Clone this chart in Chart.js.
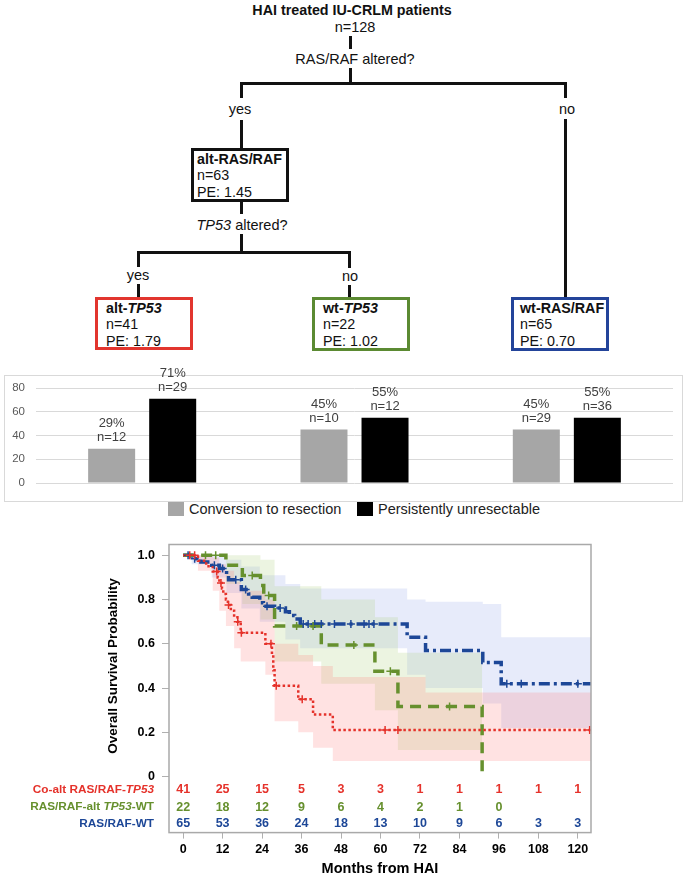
<!DOCTYPE html>
<html lang="en">
<head>
<meta charset="utf-8"/>
<title>HAI treated IU-CRLM patients</title>
<script src="https://cdn.jsdelivr.net/npm/chart.js"></script>
<style>
  body { margin: 0; width: 686px; height: 879px; position: relative; overflow: hidden; background: #fff;
         font-family: Arial, "Liberation Sans", sans-serif; color: #111; }
  .t { position: absolute; white-space: nowrap; font-size: 14.5px; line-height: 16px; transform: translate(-50%, -50%); }
  .ln { position: absolute; background: #111; }
  .box { position: absolute; box-sizing: border-box; border: 3px solid #111; font-size: 14.3px; line-height: 16.3px; white-space: nowrap; }
  .panel { position: absolute; left: 4px; top: 375px; width: 677px; height: 125px; border: 1px solid #d9d9d9; }
  .leg { position: absolute; top: 501px; font-size: 14.5px; line-height: 16px; color: #222; white-space: nowrap; }
  .sq { display: inline-block; width: 16px; height: 14px; vertical-align: -2px; margin-right: 5px; }
  #barChart { position: absolute; left: 5px; top: 356px; }
  #kmWrap { position: absolute; left: 0; top: 530px; }
</style>
</head>
<body>
<!-- decision tree -->
<div class="t" style="left:352px;top:10px;font-weight:bold;font-size:14.3px;">HAI treated IU-CRLM patients</div>
<div class="t" style="left:355px;top:27px;">n=128</div>
<div class="t" style="left:355px;top:59px;">RAS/RAF altered?</div>
<div class="t" style="left:240px;top:109px;">yes</div>
<div class="t" style="left:567px;top:109px;">no</div>
<div class="t" style="left:242px;top:225px;"><i>TP53</i> altered?</div>
<div class="t" style="left:138px;top:275px;">yes</div>
<div class="t" style="left:350px;top:276px;">no</div>

<div class="ln" style="left:349px;top:36px;width:3px;height:13px;"></div>
<div class="ln" style="left:349px;top:68px;width:3px;height:16px;"></div>
<div class="ln" style="left:240px;top:82px;width:327px;height:3px;"></div>
<div class="ln" style="left:240px;top:82px;width:3px;height:16px;"></div>
<div class="ln" style="left:240px;top:120px;width:3px;height:28px;"></div>
<div class="ln" style="left:564px;top:82px;width:3px;height:16px;"></div>
<div class="ln" style="left:564px;top:119px;width:3px;height:178px;"></div>
<div class="ln" style="left:240px;top:202px;width:3px;height:12px;"></div>
<div class="ln" style="left:240px;top:234px;width:3px;height:19px;"></div>
<div class="ln" style="left:137px;top:251px;width:214px;height:3px;"></div>
<div class="ln" style="left:137px;top:251px;width:3px;height:16px;"></div>
<div class="ln" style="left:137px;top:284px;width:3px;height:13px;"></div>
<div class="ln" style="left:348px;top:251px;width:3px;height:17px;"></div>
<div class="ln" style="left:348px;top:285px;width:3px;height:12px;"></div>

<div class="box" style="left:191px;top:148px;width:98px;height:54px;padding-left:3px;">
  <b>alt-RAS/RAF</b><br/>n=63<br/>PE: 1.45</div>
<div class="box" style="left:95px;top:297px;width:98px;height:53px;padding-left:8px;border-color:#e2352e;">
  <b>alt-<i>TP53</i></b><br/>n=41<br/>PE: 1.79</div>
<div class="box" style="left:312px;top:297px;width:98px;height:54px;padding-left:8px;border-color:#5b8a32;">
  <b>wt-<i>TP53</i></b><br/>n=22<br/>PE: 1.02</div>
<div class="box" style="left:511px;top:297px;width:98px;height:54px;padding-left:6px;border-color:#23449a;">
  <b>wt-RAS/RAF</b><br/>n=65<br/>PE: 0.70</div>

<!-- bar chart -->
<div class="panel"></div>
<canvas id="barChart" width="677" height="145"></canvas>
<div class="leg" style="left:168px;"><span class="sq" style="background:#a6a6a6;"></span>Conversion to resection</div>
<div class="leg" style="left:357px;"><span class="sq" style="background:#000;"></span>Persistently unresectable</div>

<!-- survival chart -->
<div id="kmWrap"><canvas id="kmChart" width="686" height="349"></canvas></div>

<script>
  // ---- bar chart data ----
  const groups = ['alt-TP53', 'wt-TP53', 'wt-RAS/RAF'];
  const convPct = [29, 45, 45];
  const persPct = [71, 55, 55];
  const convN = [12, 10, 29];
  const persN = [29, 12, 36];
  const barTicks = [0, 20, 40, 60, 80];

  // ---- survival data (months, probability) ----
  const xTicks = [0, 12, 24, 36, 48, 60, 72, 84, 96, 108, 120];
  const yTicks = [0, 0.2, 0.4, 0.6, 0.8, 1.0];

  const redT = [0, 4.5, 7, 9, 10.5, 11, 11.8, 12.2, 13, 13.6, 14.5, 15.5, 16.5, 17.5, 25, 27, 27.4, 27.8, 35, 39.5, 45.5, 124];
  const redS = [1, 0.976, 0.951, 0.927, 0.90, 0.875, 0.85, 0.825, 0.80, 0.775, 0.75, 0.72, 0.70, 0.65, 0.60, 0.55, 0.48, 0.41, 0.35, 0.28, 0.21, 0.21];
  const greenT = [0, 13, 18, 23.5, 24.5, 27.8, 42, 58.3, 65.3, 90.9];
  const greenS = [1, 0.955, 0.909, 0.864, 0.818, 0.68, 0.595, 0.476, 0.317, 0];
  const blueT = [0, 2.6, 5.4, 8.7, 11, 13.2, 13.8, 17.7, 19.9, 21, 23.3, 24.4, 27.8, 31.1, 32.3, 33.9, 35.6, 68.1, 73.7, 91.1, 96.7, 124];
  const blueS = [1, 0.985, 0.97, 0.955, 0.94, 0.91, 0.89, 0.845, 0.825, 0.81, 0.786, 0.77, 0.762, 0.745, 0.728, 0.712, 0.69, 0.63, 0.57, 0.515, 0.42, 0.42];

  // censored observations
  const redCensT = [2, 3.5, 10.2, 11.5, 13.8, 16.6, 17.7, 26.7, 28.3, 36.2, 61.4, 65.3, 123.6];
  const redCensS = [1, 1, 0.927, 0.875, 0.775, 0.70, 0.65, 0.60, 0.41, 0.35, 0.21, 0.21, 0.21];
  const greenCensT = [6.8, 9.9, 21, 26, 34.5, 39.5, 51.9, 63, 81];
  const greenCensS = [1, 1, 0.909, 0.818, 0.68, 0.68, 0.595, 0.476, 0.317];
  const blueCensT = [1.5, 3.5, 9.5, 12, 16, 19, 25.5, 29.5, 36.5, 38, 40, 42, 46, 51, 55, 56.5, 58, 98.4, 102.8, 120];
  const blueCensS = [1, 0.985, 0.955, 0.94, 0.89, 0.845, 0.77, 0.762, 0.69, 0.69, 0.69, 0.69, 0.69, 0.69, 0.69, 0.69, 0.69, 0.42, 0.42, 0.42];

  // confidence bands
  const redBandT = [0, 4.5, 9, 11, 13, 15.5, 17.5, 25, 27.8, 35, 39.5, 45.5, 73.7, 124];
  const redUp = [1, 1, 0.99, 0.96, 0.93, 0.88, 0.84, 0.80, 0.60, 0.55, 0.50, 0.45, 0.38, 0.38];
  const redLo = [1, 0.93, 0.84, 0.75, 0.68, 0.58, 0.52, 0.46, 0.25, 0.20, 0.13, 0.07, 0.07, 0.07];
  const greenBandT = [0, 13, 18, 23.5, 27.8, 42, 58.3, 65.3, 90.9];
  const greenUp = [1, 1, 1, 0.98, 0.86, 0.80, 0.72, 0.56, 0.56];
  const greenLo = [1, 0.87, 0.78, 0.71, 0.52, 0.42, 0.30, 0.12, 0.12];
  const blueBandT = [0, 2.6, 8.7, 13.2, 17.7, 23.3, 31.1, 35.6, 68.1, 73.7, 91.1, 96.7, 124];
  const blueUp = [1, 1, 1, 0.98, 0.95, 0.91, 0.87, 0.85, 0.80, 0.79, 0.78, 0.63, 0.63];
  const blueLo = [1, 0.96, 0.90, 0.83, 0.76, 0.70, 0.62, 0.58, 0.46, 0.40, 0.33, 0.22, 0.22];

  // numbers at risk
  const riskMonths = [0, 12, 24, 36, 48, 60, 72, 84, 96, 108, 120];
  const riskRed = [41, 25, 15, 5, 3, 3, 1, 1, 1, 1, 1];
  const riskGreen = [22, 18, 12, 9, 6, 4, 2, 1, 0];
  const riskBlue = [65, 53, 36, 24, 18, 13, 10, 9, 6, 3, 3];

  const RED = '#e5322b', GREEN = '#66902e', BLUE = '#1d4797';

  const pts = (t, s) => t.map((x, i) => ({x: x, y: s[i]}));

  // ---------- bar chart ----------
  const barLabels = {
    id: 'barLabels',
    afterDatasetsDraw(chart) {
      const ctx = chart.ctx;
      const pcts = [convPct, persPct], ns = [convN, persN];
      ctx.save();
      ctx.font = '13px Arial';
      ctx.fillStyle = '#404040';
      ctx.textAlign = 'center';
      ctx.textBaseline = 'middle';
      chart.data.datasets.forEach((ds, d) => {
        chart.getDatasetMeta(d).data.forEach((bar, i) => {
          ctx.fillText(pcts[d][i] + '%', bar.x, bar.y - 25);
          ctx.fillText('n=' + ns[d][i], bar.x, bar.y - 11);
        });
      });
      ctx.restore();
    }
  };

  new Chart(document.getElementById('barChart'), {
    type: 'bar',
    data: {
      labels: groups,
      datasets: [
        { label: 'Conversion to resection', data: convPct, backgroundColor: '#a6a6a6' },
        { label: 'Persistently unresectable', data: persPct, backgroundColor: '#000' }
      ]
    },
    options: {
      responsive: false,
      animation: false,
      categoryPercentage: 0.575,
      barPercentage: 0.77,
      layout: { padding: { top: 32, bottom: 13, right: 9, left: 0 } },
      plugins: { legend: { display: false }, tooltip: { enabled: false } },
      scales: {
        x: { display: false },
        y: {
          min: 0, max: 80,
          afterBuildTicks: s => { s.ticks = barTicks.map(v => ({value: v})); },
          afterFit: s => { s.width = 31; },
          ticks: { color: '#595959', font: { size: 11.5, family: 'Arial' }, padding: 11 },
          grid: { color: '#d9d9d9', drawTicks: false },
          border: { display: false }
        }
      }
    },
    plugins: [barLabels]
  });

  // ---------- survival chart ----------
  const riskRows = [
    { y: -0.058, color: RED, nums: riskRed, parts: [['Co-alt RAS/RAF-', ''], ['TP53', 'italic ']] },
    { y: -0.138, color: GREEN, nums: riskGreen, parts: [['RAS/RAF-alt ', ''], ['TP53', 'italic '], ['-WT', '']] },
    { y: -0.213, color: BLUE, nums: riskBlue, parts: [['RAS/RAF-WT', '']] }
  ];

  const kmExtras = {
    id: 'kmExtras',
    afterDraw(chart) {
      const ctx = chart.ctx, xs = chart.scales.x, ys = chart.scales.y, a = chart.chartArea;
      ctx.save();
      // frame
      ctx.strokeStyle = '#a9a9a9';
      ctx.lineWidth = 1.5;
      ctx.strokeRect(a.left, a.top, a.right - a.left, a.bottom - a.top);
      // y title
      ctx.fillStyle = '#000';
      ctx.font = 'bold 13.5px Arial';
      ctx.textAlign = 'center';
      ctx.textBaseline = 'middle';
      ctx.translate(113, ys.getPixelForValue(0.5));
      ctx.rotate(-Math.PI / 2);
      ctx.fillText('Overall Survival Probability', 0, 0);
      ctx.restore();

      // numbers at risk
      ctx.save();
      ctx.textBaseline = 'middle';
      riskRows.forEach(row => {
        const py = ys.getPixelForValue(row.y);
        ctx.fillStyle = row.color;
        ctx.font = 'bold 12.5px Arial';
        ctx.textAlign = 'center';
        row.nums.forEach((n, i) => ctx.fillText(String(n), xs.getPixelForValue(riskMonths[i]), py));
        // row label, right aligned
        ctx.textAlign = 'left';
        let w = 0;
        row.parts.forEach(p => { ctx.font = p[1] + 'bold 11.8px Arial'; w += ctx.measureText(p[0]).width; });
        let x = a.left - 15 - w;
        row.parts.forEach(p => {
          ctx.font = p[1] + 'bold 11.8px Arial';
          ctx.fillText(p[0], x, py);
          x += ctx.measureText(p[0]).width;
        });
      });
      ctx.restore();
    }
  };

  const band = (t, v, color, fill, order) => ({
    data: pts(t, v), stepped: 'before', borderWidth: 0, pointRadius: 0,
    backgroundColor: color, fill: fill, order: order
  });
  const curve = (t, s, color, dash, width) => ({
    data: pts(t, s), stepped: 'before', borderColor: color, borderWidth: width,
    borderDash: dash, pointRadius: 0, fill: false, order: 1
  });
  const cens = (t, s, color) => ({
    data: pts(t, s), showLine: false, pointStyle: 'cross', pointRadius: 4,
    pointBorderWidth: 1.5, borderColor: color, backgroundColor: color, order: 0
  });

  new Chart(document.getElementById('kmChart'), {
    type: 'line',
    data: {
      datasets: [
        band(blueBandT, blueUp, 'rgba(0,0,0,0)', false, 5),
        band(blueBandT, blueLo, 'rgba(120,145,225,0.18)', '-1', 5),
        band(greenBandT, greenUp, 'rgba(0,0,0,0)', false, 4),
        band(greenBandT, greenLo, 'rgba(170,205,120,0.22)', '-1', 4),
        band(redBandT, redUp, 'rgba(0,0,0,0)', false, 3),
        band(redBandT, redLo, 'rgba(255,110,110,0.20)', '-1', 3),
        curve(redT, redS, RED, [2.5, 2.5], 2.5),
        curve(greenT, greenS, GREEN, [11, 7], 3.5),
        curve(blueT, blueS, BLUE, [11, 4, 3, 4], 3.5),
        cens(redCensT, redCensS, RED),
        cens(greenCensT, greenCensS, GREEN),
        cens(blueCensT, blueCensS, BLUE)
      ]
    },
    options: {
      responsive: false,
      animation: false,
      layout: { padding: { top: 13, right: 95, left: 0, bottom: 1 } },
      plugins: { legend: { display: false }, tooltip: { enabled: false } },
      scales: {
        x: {
          type: 'linear', min: -4.3, max: 124,
          afterBuildTicks: s => { s.ticks = xTicks.map(v => ({value: v})); },
          ticks: { color: '#000', font: { size: 12.5, weight: 'bold', family: 'Arial' }, padding: 3, maxRotation: 0, autoSkip: false },
          grid: { drawOnChartArea: false, tickLength: 6, color: '#b0b0b0' },
          border: { display: false },
          title: { display: true, text: 'Months from HAI', color: '#000',
                   font: { size: 14.5, weight: 'bold', family: 'Arial' }, padding: { top: 1, bottom: 0 } }
        },
        y: {
          min: -0.2533, max: 1.0489,
          afterBuildTicks: s => { s.ticks = yTicks.map(v => ({value: v})); },
          afterFit: s => { s.width = 169; },
          ticks: { color: '#000', font: { size: 12.5, weight: 'bold', family: 'Arial' }, padding: 7,
                   callback: v => v === 0 ? '0' : v.toFixed(1) },
          grid: { drawOnChartArea: false, tickLength: 7, color: '#b0b0b0' },
          border: { display: false }
        }
      }
    },
    plugins: [kmExtras]
  });
</script>
</body>
</html>
